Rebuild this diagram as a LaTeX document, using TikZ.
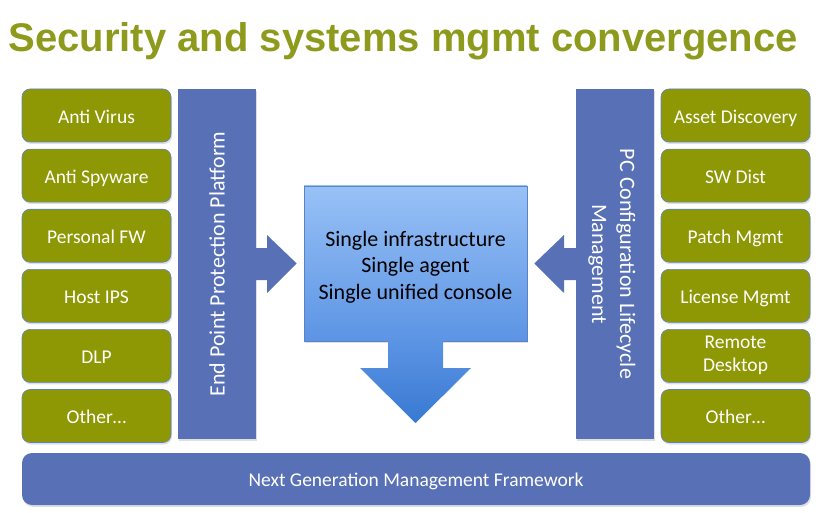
\documentclass[tikz,border=0pt]{standalone}
\usepackage{fontspec}
\setmainfont{Carlito}
\newfontfamily\titlefont{Liberation Sans}
\usetikzlibrary{positioning,shadows,calc}
\definecolor{olive}{RGB}{141,152,4}
\definecolor{barblue}{RGB}{88,112,182}
\definecolor{edgeblue}{RGB}{90,130,200}
\definecolor{boxtop}{RGB}{152,193,246}
\definecolor{boxbot}{RGB}{92,148,228}
\definecolor{arrowbot}{RGB}{56,121,210}
\tikzset{
  item/.style={draw=edgeblue, line width=0.6pt, fill=olive, rounded corners=8pt,
    minimum width=149pt, minimum height=53pt, text=white, align=center,
    font=\fontsize{19.5}{23}\selectfont,
    execute at begin node=\rule{0pt}{20.4pt}, execute at end node=\rule[-5pt]{0pt}{5pt},
    drop shadow={opacity=0.25, shadow xshift=1pt, shadow yshift=-2pt}},
  bar/.style={fill=barblue, minimum width=350pt, minimum height=78pt, text=white,
    align=center, font=\fontsize{22}{28}\selectfont,
    drop shadow={opacity=0.25, shadow xshift=1pt, shadow yshift=-2pt}},
  blockarrow/.style={fill=barblue}
}
\begin{document}
\begin{tikzpicture}[x=1pt, y=-1pt, node distance=6.5pt]
  \useasboundingbox (0,0) rectangle (840,513);
  \node [anchor=base west, inner sep=0pt, text={rgb,255:red,141;green,154;blue,28},
    font=\titlefont\bfseries\fontsize{40}{44}\selectfont] (title) at (8.5,52)
    {Security and systems mgmt convergence};
  \node [item] (av) at (96.5,115.5) {Anti Virus};
  \node [item, below=of av] (as) {Anti Spyware};
  \node [item, below=of as] (fw) {Personal FW};
  \node [item, below=of fw] (ips) {Host IPS};
  \node [item, below=of ips] (dlp) {DLP};
  \node [item, below=of dlp] (lo) {Other\ldots};
  \node [item] (ad) at (735.5,115.5) {Asset Discovery};
  \node [item, below=of ad] (sw) {SW Dist};
  \node [item, below=of sw] (pm) {Patch Mgmt};
  \node [item, below=of pm] (lm) {License Mgmt};
  \node [item, below=of lm] (rd) {Remote\\Desktop};
  \node [item, below=of rd] (ro) {Other\ldots};
  \node [bar, rotate=90] (epp) at (217,264) {End Point Protection Platform};
  \node [bar, rotate=-90] (pcm) at (615,264) {\rule{0pt}{21.5pt}PC Configuration Lifecycle\\Management};
  \node [draw=edgeblue, line width=0.6pt, top color=boxtop, bottom color=boxbot,
    minimum width=223pt, minimum height=155pt, align=center,
    font=\fontsize{22}{26.5}\selectfont,
    drop shadow={opacity=0.25, shadow xshift=1pt, shadow yshift=-2pt}] (core) at (415.5,263.5)
    {\rule{0pt}{24pt}Single infrastructure\\Single agent\\Single unified console\rule[-6pt]{0pt}{6pt}};
  \node [fill=barblue, rounded corners=10pt, minimum width=788pt, minimum height=52pt,
    text=white, font=\fontsize{19.5}{23}\selectfont,
    drop shadow={opacity=0.25, shadow xshift=1pt, shadow yshift=-2pt}] (ngmf) at (416,479)
    {\rule{0pt}{20.4pt}Next Generation Management Framework\rule[-5pt]{0pt}{5pt}};
  \fill [blockarrow] (epp.south |- 0,248) -- (267,248) -- (267,235) -- ($(core.west)+(-7,0)$)
    -- (267,293) -- (267,280) -- (epp.south |- 0,280) -- cycle;
  \fill [blockarrow] (pcm.south |- 0,248) -- (564,248) -- (564,235) -- ($(core.east)+(7,0)$)
    -- (564,293) -- (564,280) -- (pcm.south |- 0,280) -- cycle;
  \shade [top color=boxbot, bottom color=arrowbot] (388,341) -- (443,341) -- (443,368)
    -- (471,368) -- (415.5,423) -- (360,368) -- (388,368) -- cycle;
\end{tikzpicture}
\end{document}
